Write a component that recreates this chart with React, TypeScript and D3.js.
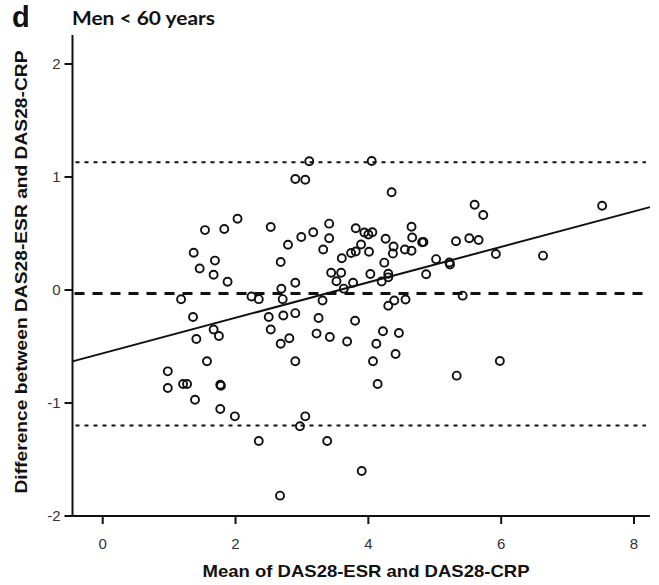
import React from "react";
import * as d3 from "d3";

const meanVals: number[] = [
  1.54, 1.83, 2.03, 1.37, 1.69, 1.46, 1.67, 1.88, 1.18, 2.24, 2.35, 1.36, 1.67, 1.75, 1.41,
  1.57, 0.98, 0.98, 1.21, 1.27, 1.77, 1.78, 1.39, 1.77, 1.99, 2.35,
  3.11, 4.05, 2.90, 3.05, 4.35, 2.53, 3.41, 3.17, 2.99, 3.41, 2.79, 3.32, 3.81, 3.94,
  4.00, 4.06, 4.65, 4.26, 4.66, 4.38, 4.37, 4.55, 4.65, 4.81, 4.83, 3.89, 3.74, 3.81,
  4.01, 3.60, 2.68, 4.24, 5.02, 5.22, 5.23, 3.44, 3.59, 4.03, 4.30, 4.30, 4.20, 4.87,
  2.90, 3.52, 3.63, 3.77, 2.69, 2.71, 3.31, 4.39, 4.30, 4.56, 2.50, 2.72, 2.90, 3.25,
  3.80, 2.53, 2.81, 3.22, 3.42, 3.68, 4.22, 4.46, 2.68, 4.12, 4.41, 2.90, 4.07, 4.14,
  3.05, 2.97, 3.38, 3.90, 2.67, 5.60, 5.73, 7.52, 5.32, 5.52, 5.66, 5.92, 6.63, 5.42,
  5.33, 5.98,
];

const diffVals: number[] = [
  0.53, 0.54, 0.63, 0.33, 0.26, 0.19, 0.135, 0.073, -0.082, -0.058, -0.081, -0.239, -0.35, -0.407, -0.434,
  -0.63, -0.72, -0.867, -0.832, -0.832, -0.838, -0.847, -0.971, -1.053, -1.118, -1.336,
  1.139, 1.142, 0.982, 0.976, 0.865, 0.558, 0.587, 0.511, 0.469, 0.458, 0.401, 0.358, 0.546, 0.509,
  0.491, 0.511, 0.56, 0.454, 0.465, 0.385, 0.323, 0.358, 0.348, 0.422, 0.425, 0.403, 0.327, 0.341,
  0.339, 0.281, 0.248, 0.242, 0.273, 0.243, 0.226, 0.153, 0.153, 0.142, 0.144, 0.112, 0.075, 0.139,
  0.064, 0.078, 0.012, 0.064, 0.011, -0.081, -0.093, -0.093, -0.14, -0.084, -0.239, -0.226, -0.205, -0.248,
  -0.272, -0.35, -0.427, -0.386, -0.416, -0.456, -0.365, -0.381, -0.476, -0.476, -0.566, -0.631, -0.631, -0.832,
  -1.118, -1.206, -1.336, -1.602, -1.82, 0.755, 0.664, 0.746, 0.431, 0.458, 0.442, 0.319, 0.304, -0.05,
  -0.758, -0.628,
];

const xTicks: number[] = [0, 2, 4, 6, 8];
const yTicks: number[] = [-2, -1, 0, 1, 2];

const meanDiff = -0.03;
const upperLoA = 1.13;
const lowerLoA = -1.2;
const regIntercept = -0.56;
const regSlope = 0.157;

const panelLetter = "d";
const panelTitle = "Men < 60 years";
const xLabel = "Mean of DAS28-ESR and DAS28-CRP";
const yLabel = "Difference between DAS28-ESR and DAS28-CRP";

export default function App() {
  const W = 659;
  const H = 585;
  const xDomain: [number, number] = [-0.455, 8.24];
  const yDomain: [number, number] = [-2, 2.257];
  const x = d3.scaleLinear().domain(xDomain).range([72.5, 72.5 + (xDomain[1] - xDomain[0]) * 66.41]);
  const y = d3.scaleLinear().domain(yDomain).range([516, 516 - (yDomain[1] - yDomain[0]) * 113]);

  const points = meanVals.map((m, i) => ({ m, d: diffVals[i] }));
  const reg = d3.line<number>().x((v) => x(v)).y((v) => y(regIntercept + regSlope * v));

  const x0 = x(xDomain[0]);
  const x1 = x(xDomain[1]);
  const yBottom = y(yDomain[0]);
  const yTop = y(yDomain[1]);
  const tickFont = "'Liberation Sans', Arial, sans-serif";

  return (
    <svg width={W} height={H} style={{ position: "absolute", left: 0, top: 0, background: "#fff" }}>
      <rect x={0} y={0} width={W} height={H} fill="#fff" />
      <text x={12} y={27} fontFamily={tickFont} fontWeight="bold" fontSize={29} fill="#111">
        {panelLetter}
      </text>
      <text x={72} y={25} fontFamily="Lato, 'Open Sans', sans-serif" fontWeight="bold" fontSize={19.5} fill="#111" textLength={143} lengthAdjust="spacingAndGlyphs">
        {panelTitle}
      </text>

      {/* reference lines */}
      <line x1={x0 + 3} x2={x1 - 4} y1={y(upperLoA)} y2={y(upperLoA)} stroke="#111" strokeWidth={2} strokeDasharray="4,5" />
      <line x1={x0 + 3} x2={x1 - 4} y1={y(lowerLoA)} y2={y(lowerLoA)} stroke="#111" strokeWidth={2} strokeDasharray="4,5" />
      <line x1={x0 + 2} x2={x1 - 2} y1={y(meanDiff)} y2={y(meanDiff)} stroke="#111" strokeWidth={3} strokeDasharray="10,8" />
      <path d={reg(xDomain) || ""} fill="none" stroke="#111" strokeWidth={2} />

      {/* points */}
      {points.map((p, i) => (
        <circle key={i} cx={x(p.m)} cy={y(p.d)} r={4} fill="none" stroke="#111" strokeWidth={1.9} />
      ))}

      {/* axes */}
      <line x1={x0} x2={x0} y1={yTop} y2={yBottom + 1} stroke="#111" strokeWidth={2} />
      <line x1={x0 - 1} x2={x1} y1={yBottom} y2={yBottom} stroke="#111" strokeWidth={2} />
      {yTicks.map((t) => (
        <g key={"y" + t}>
          <line x1={x0 - 8} x2={x0} y1={y(t)} y2={y(t)} stroke="#111" strokeWidth={2} />
          <text x={x0 - 12} y={y(t)} dy="0.36em" textAnchor="end" fontFamily={tickFont} fontSize={15} fill="#333">
            {t}
          </text>
        </g>
      ))}
      {xTicks.map((t) => (
        <g key={"x" + t}>
          <line x1={x(t)} x2={x(t)} y1={yBottom} y2={yBottom + 8} stroke="#111" strokeWidth={2} />
          <text x={x(t)} y={yBottom + 33} textAnchor="middle" fontFamily={tickFont} fontSize={15} fill="#333">
            {t}
          </text>
        </g>
      ))}
      <text x={366} y={577} textAnchor="middle" fontFamily={tickFont} fontWeight="bold" fontSize={17} fill="#111" textLength={327} lengthAdjust="spacingAndGlyphs">
        {xLabel}
      </text>
      <text
        transform={`translate(27, 272) rotate(-90)`}
        textAnchor="middle"
        fontFamily={tickFont}
        fontWeight="bold"
        fontSize={17}
        fill="#111"
        textLength={443}
        lengthAdjust="spacingAndGlyphs"
      >
        {yLabel}
      </text>
    </svg>
  );
}
